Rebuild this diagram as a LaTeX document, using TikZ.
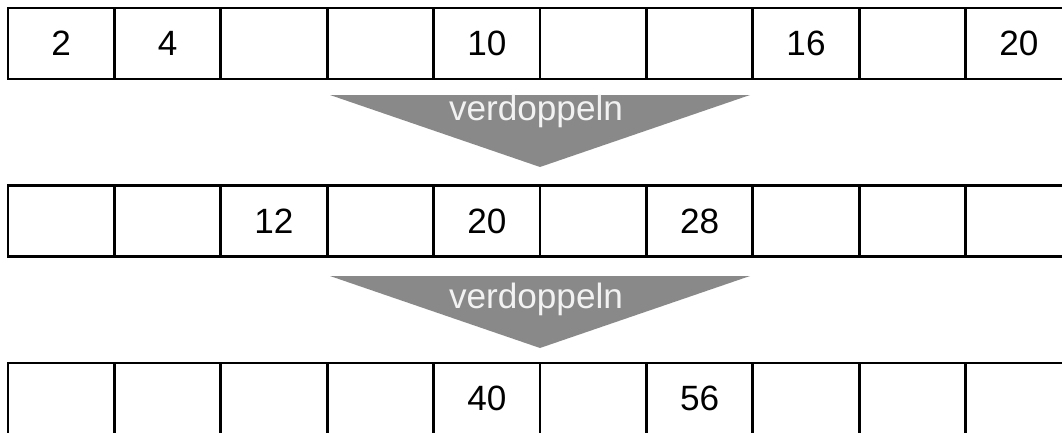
\documentclass[tikz,border=0pt]{standalone}
\usepackage{fontspec}
\setmainfont{Liberation Sans}
\definecolor{arrowgray}{HTML}{898989}
\definecolor{labelwhite}{HTML}{F2F2F2}
\begin{document}
\begin{tikzpicture}[cell/.style={draw,line width=.8pt,minimum width=1.064cm,
                  minimum height=.71cm,inner sep=0pt,outer sep=0pt,anchor=north west,
                  font=\fontsize{10}{12}\selectfont},
                  funnel/.style={fill=arrowgray},
                  funneltext/.style={anchor=base,text=labelwhite,inner sep=0pt,
                  font=\fontsize{10}{12}\selectfont}]
              \useasboundingbox (0,0) rectangle (10.62,-4.33);
              % rij 1
              \foreach \v [count=\i] in {2,4,{},{},10,{},{},16,{},20}
                \node[cell] (a\i) at ({0.08+(\i-1)*1.064},-0.08) {\v};
              % rij 2
              \foreach \v [count=\i] in {{},{},12,{},20,{},28,{},{},{}}
                \node[cell] (b\i) at ({0.08+(\i-1)*1.064},-1.855) {\v};
              % rij 3
              \foreach \v [count=\i] in {{},{},{},{},40,{},56,{},{},{}}
                \node[cell] (c\i) at ({0.08+(\i-1)*1.064},-3.63) {\v};
              % pijlen
              \fill[funnel] (3.30,-0.95) -- (7.50,-0.95) -- (5.40,-1.67) -- cycle;
              \node[funneltext] (v1) at (5.36,-1.20) {verdoppeln};
              \fill[funnel] (3.30,-2.76) -- (7.50,-2.76) -- (5.40,-3.48) -- cycle;
              \node[funneltext] (v2) at (5.36,-3.08) {verdoppeln};
          \end{tikzpicture}
\end{document}
